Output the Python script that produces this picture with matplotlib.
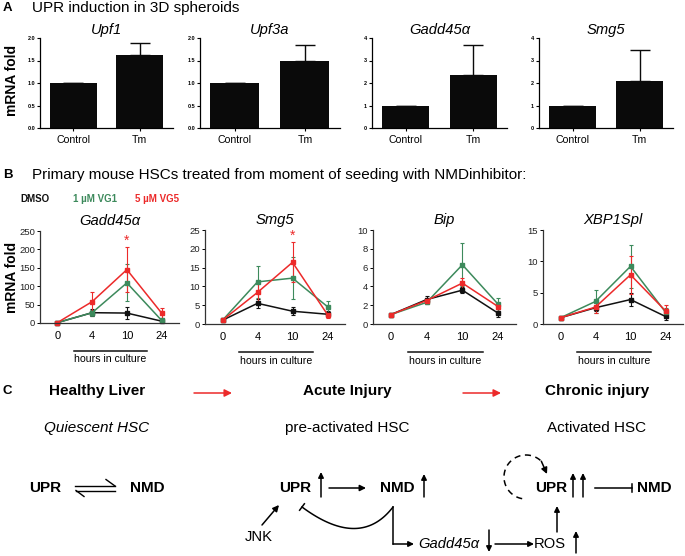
import numpy as np
import matplotlib
matplotlib.use("Agg")
import matplotlib.pyplot as plt
import matplotlib.transforms as mtransforms

plt.rcParams['font.family'] = ['Liberation Sans', 'DejaVu Sans']

W, H = 685, 556
fig = plt.figure(figsize=(W / 100, H / 100), dpi=100)

# ---------------- data ----------------
a_genes = ["Upf1", "Upf3a", "Gadd45\u03b1", "Smg5"]
a_groups = ["Control", "Tm"]
a_means = [[1.0, 1.62], [1.0, 1.48], [1.0, 2.35], [1.0, 2.08]]
a_err = [[0.0, 0.28], [0.0, 0.36], [0.0, 1.35], [0.0, 1.40]]
a_ymax = [2.0, 2.0, 4.0, 4.0]
a_yticks = [[0.0, 0.5, 1.0, 1.5, 2.0], [0.0, 0.5, 1.0, 1.5, 2.0], [0, 1, 2, 3, 4], [0, 1, 2, 3, 4]]
a_yticklabels = [["0.0", "0.5", "1.0", "1.5", "2.0"], ["0.0", "0.5", "1.0", "1.5", "2.0"],
                 ["0", "1", "2", "3", "4"], ["0", "1", "2", "3", "4"]]

b_genes = ["Gadd45\u03b1", "Smg5", "Bip", "XBP1Spl"]
b_hours = ["0", "4", "10", "24"]
b_series = ["DMSO", "1 \u00b5M VG1", "5 \u00b5M VG5"]
b_dmso = [[1, 28, 27, 5], [1.0, 5.5, 3.4, 2.6], [1.0, 2.6, 3.6, 1.15], [1.0, 2.6, 3.9, 1.2]]
b_dmso_err = [[1, 9, 17, 3], [0.2, 1.2, 1.1, 0.8], [0.05, 0.4, 0.35, 0.4], [0.1, 0.5, 1.1, 0.5]]
b_vg1 = [[1, 28, 109, 7], [1.0, 11.2, 12.2, 4.6], [1.0, 2.3, 6.3, 2.1], [1.0, 3.6, 9.2, 1.9]]
b_vg1_err = [[1, 8, 50, 5], [0.2, 4.2, 5.5, 1.6], [0.05, 0.15, 2.3, 0.7], [0.1, 1.8, 3.4, 0.6]]
b_vg5 = [[1, 58, 145, 27], [1.0, 8.4, 16.4, 2.5], [1.0, 2.5, 4.35, 1.85], [1.0, 2.7, 7.85, 2.1]]
b_vg5_err = [[1, 25, 62, 14], [0.2, 2.5, 5.3, 0.8], [0.05, 0.2, 0.55, 0.3], [0.1, 0.9, 3.0, 1.0]]
b_ymax = [250, 25, 10, 15]
b_yticks = [[0, 50, 100, 150, 200, 250], [0, 5, 10, 15, 20, 25], [0, 2, 4, 6, 8, 10], [0, 5, 10, 15]]
b_star = [True, True, False, False]

GREEN = "#3d8a5c"
RED = "#ec2a2a"
b_colors = ["#111111", GREEN, RED]


def ax_px(l, t, r, b):
    return fig.add_axes([l / W, 1 - b / H, (r - l) / W, (b - t) / H])


# ---------------- panel A ----------------
a_boxes = [(40, 38, 173, 128), (200, 38, 340, 128), (372, 38, 507, 128), (539, 38, 673, 128)]
for i, box in enumerate(a_boxes):
    ax = ax_px(*box)
    x = np.arange(len(a_groups))
    ax.bar(x, a_means[i], width=0.7, color="#0a0a0a", zorder=2)
    lower = np.zeros(len(a_groups))
    ax.errorbar(x, a_means[i], yerr=[lower, a_err[i]], fmt="none", ecolor="#0a0a0a",
                elinewidth=1.0, capsize=7.5, capthick=1.0, zorder=1)
    ax.set_xlim(-0.5, 1.5)
    ax.set_ylim(0, a_ymax[i])
    ax.set_yticks(a_yticks[i])
    ax.set_yticklabels(a_yticklabels[i], fontsize=4, fontweight="bold")
    ax.set_xticks(x)
    ax.set_xticklabels(a_groups, fontsize=7.6)
    for s in ["top", "right"]:
        ax.spines[s].set_visible(False)
    for s in ["left", "bottom"]:
        ax.spines[s].set_linewidth(0.9)
    ax.tick_params(axis="y", length=2, width=0.8, pad=1.5)
    ax.tick_params(axis="x", length=2, width=0.8, pad=3)
    ax.set_title(a_genes[i], fontsize=10.6, style="italic", pad=3)

# ---------------- panel B ----------------
b_boxes = [(40, 231, 179, 323), (205, 230, 345, 324), (373, 230, 516, 324), (543, 230, 683, 324)]
for i, box in enumerate(b_boxes):
    ax = ax_px(*box)
    x = np.arange(len(b_hours))
    for vals, errs, col in zip([b_dmso[i], b_vg1[i], b_vg5[i]],
                               [b_dmso_err[i], b_vg1_err[i], b_vg5_err[i]], b_colors):
        ax.errorbar(x, vals, yerr=errs, color=col, lw=1.1, elinewidth=0.8, capsize=1.5,
                    capthick=0.8, marker="s", ms=2.2, mec=col, mfc=col, clip_on=False)
    if b_star[i]:
        ymx = b_vg5[i][2] + b_vg5_err[i][2]
        ax.text(2, ymx + 0.07 * b_ymax[i], "*", color=RED, fontsize=10, ha="center",
                va="center")
    ax.set_xlim(-0.5, 3.5)
    ax.set_ylim(0, b_ymax[i])
    ax.set_yticks(b_yticks[i])
    ax.tick_params(axis="y", labelsize=6.8, length=2, width=0.7, pad=1.5, labelcolor="#222222")
    ax.set_xticks(x)
    ax.set_xticklabels(b_hours, fontsize=8)
    ax.tick_params(axis="x", length=0, pad=6)
    for s in ["top", "right"]:
        ax.spines[s].set_visible(False)
    for s in ["left", "bottom"]:
        ax.spines[s].set_linewidth(0.9)
        ax.spines[s].set_color("#333333")
    ax.set_title(b_genes[i], fontsize=10.6, style="italic", pad=4)
    trans = mtransforms.blended_transform_factory(ax.transData, ax.transAxes)
    ax.plot([0.48, 2.58], [-0.30, -0.30], color="#111111", lw=1.1, transform=trans, clip_on=False)
    ax.text(1.53, -0.39, "hours in culture", fontsize=7.6, ha="center", va="center",
            transform=trans)

# ---------------- overlay for texts and diagram ----------------
ov = fig.add_axes([0, 0, 1, 1], zorder=-1)
ov.set_xlim(0, W)
ov.set_ylim(H, 0)
ov.axis("off")
ov.patch.set_alpha(0)

ov.text(3, 8, "A", fontsize=9.5, fontweight="bold", va="center")
ov.text(32, 8, "UPR induction in 3D spheroids", fontsize=11, va="center")
ov.text(12, 80, "mRNA fold", fontsize=10, fontweight="bold", rotation=90, ha="center", va="center")

ov.text(3, 175, "B", fontsize=9.5, fontweight="bold", va="center")
ov.text(32, 175, "Primary mouse HSCs treated from moment of seeding with NMDinhibitor:",
        fontsize=11, va="center")
ov.text(12, 277, "mRNA fold", fontsize=10, fontweight="bold", rotation=90, ha="center", va="center")
for lx, lab, col in zip([20, 73, 135], b_series, b_colors):
    ov.text(lx, 199, lab, fontsize=7, fontweight="bold", color=col, va="center")

# panel C
ov.text(3, 391, "C", fontsize=9.5, fontweight="bold", va="center")
for cx, t1, t2, st in zip([97, 347, 597],
                          ["Healthy Liver", "Acute Injury", "Chronic injury"],
                          ["Quiescent HSC", "pre-activated HSC", "Activated HSC"],
                          ["italic", "normal", "normal"]):
    ov.text(cx, 391, t1, fontsize=11, fontweight="bold", ha="center", va="center")
    ov.text(cx, 428, t2, fontsize=11, style=st, ha="center", va="center")


def arrow(x0, y0, x1, y1, color="black", lw=1.1, ms=9, style="-|>", ls="-"):
    ov.annotate("", xy=(x1, y1), xytext=(x0, y0),
                arrowprops=dict(arrowstyle=style, color=color, lw=lw, mutation_scale=ms,
                                shrinkA=0, shrinkB=0, linestyle=ls))


arrow(194, 393, 232, 393, color=RED, lw=1.1, ms=11)
arrow(463, 393, 501, 393, color=RED, lw=1.1, ms=11)

BF = 11
# healthy
ov.text(45, 488, "UPR", fontsize=BF, fontweight="bold", ha="center", va="center")
ov.text(147, 488, "NMD", fontsize=BF, fontweight="bold", ha="center", va="center")
ov.plot([75, 115], [486, 486], color="black", lw=1.0)
ov.plot([115, 106], [486, 479.5], color="black", lw=1.0)
ov.plot([76, 115], [490.5, 490.5], color="black", lw=1.0)
ov.plot([76, 84], [490.5, 496.5], color="black", lw=1.0)

# acute
ov.text(295, 488, "UPR", fontsize=BF, fontweight="bold", ha="center", va="center")
arrow(321, 497, 321, 472, lw=1.1, ms=8)
arrow(329, 488, 366, 488, lw=1.1, ms=9)
ov.text(397, 488, "NMD", fontsize=BF, fontweight="bold", ha="center", va="center")
arrow(424, 497, 424, 474, lw=1.1, ms=8)
ov.text(259, 537, "JNK", fontsize=10.6, ha="center", va="center")
arrow(262, 525, 279, 505, lw=1.1, ms=9)
# inhibition curve from NMD to UPR
t = np.linspace(0, 1, 60)
p0, p1, p2 = np.array([393, 507]), np.array([360, 550]), np.array([302, 507])
curve = ((1 - t) ** 2)[:, None] * p0 + (2 * t * (1 - t))[:, None] * p1 + (t ** 2)[:, None] * p2
ov.plot(curve[:, 0], curve[:, 1], color="black", lw=1.1)
d = p2 - p1
d = d / np.hypot(*d)
nrm = np.array([-d[1], d[0]])
ov.plot([p2[0] - 4 * nrm[0], p2[0] + 4 * nrm[0]], [p2[1] - 4 * nrm[1], p2[1] + 4 * nrm[1]],
        color="black", lw=1.1)
ov.plot([393, 393], [507, 544], color="black", lw=1.1)
arrow(393, 544, 414, 544, lw=1.1, ms=8)
ov.text(418, 544, "Gadd45\u03b1", fontsize=10.6, style="italic", ha="left", va="center")
arrow(489, 530, 489, 552, lw=1.1, ms=8)
arrow(495, 544, 534, 544, lw=1.1, ms=8)
ov.text(534, 544, "ROS", fontsize=10.6, ha="left", va="center")
arrow(576, 553, 576, 531, lw=1.1, ms=8)

# chronic
ov.text(551, 488, "UPR", fontsize=BF, fontweight="bold", ha="center", va="center")
arrow(573, 497, 573, 473, lw=1.1, ms=8)
arrow(583, 497, 583, 473, lw=1.1, ms=8)
ov.plot([595, 632], [488, 488], color="black", lw=1.1)
ov.plot([632, 632], [484, 492], color="black", lw=1.1)
ov.text(654, 488, "NMD", fontsize=BF, fontweight="bold", ha="center", va="center")
arrow(557, 532, 557, 506, lw=1.1, ms=8)
# dashed circular arrow (screen coords, y down)
ang = np.radians(np.linspace(100, 335, 80))
cxy = np.array([526, 477])
r = 22
xs = cxy[0] + r * np.cos(ang)
ys = cxy[1] + r * np.sin(ang)
ov.plot(xs[:-6], ys[:-6], color="black", lw=1.1, ls=(0, (4, 3)))
arrow(xs[-8], ys[-8], 547, 474, lw=1.1, ms=9)

fig.savefig("out.png", dpi=100)
